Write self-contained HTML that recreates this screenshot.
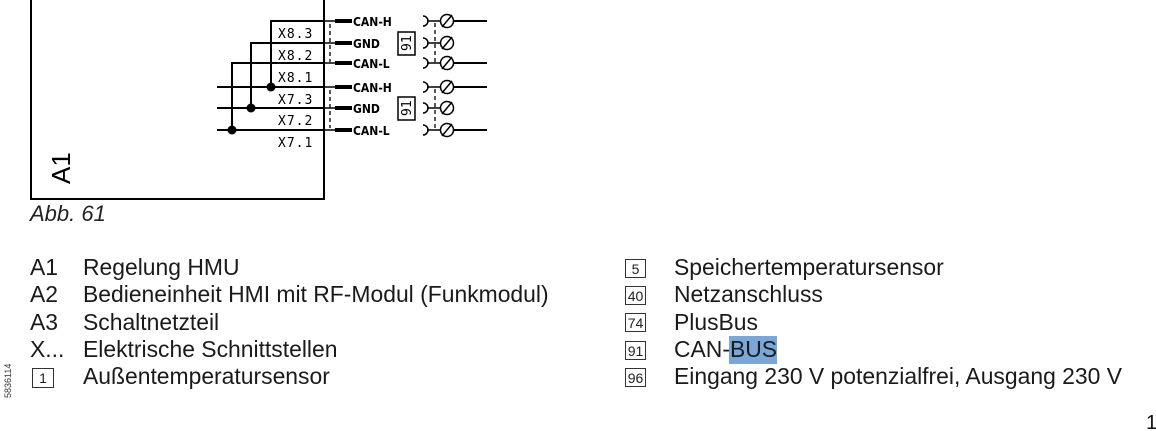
<!DOCTYPE html>
<html><head><meta charset="utf-8"><style>
html,body{margin:0;padding:0;background:#fff;}
svg{display:block;}
.m{font-family:"DejaVu Sans Mono","Liberation Mono",monospace;font-size:13px;letter-spacing:1px;fill:#000;}
.c{font-family:"DejaVu Sans Condensed","Liberation Sans",sans-serif;font-size:12px;font-weight:bold;fill:#000;}
.s{font-family:"Liberation Sans",sans-serif;font-size:22.9px;fill:#1a1a1a;}
</style></head><body>
<svg width="1156" height="431" viewBox="0 0 1156 431" xmlns="http://www.w3.org/2000/svg">
<g stroke="#000" fill="none" stroke-width="2">
<path d="M31 -2 V199 H324 V-2"/>
<path d="M271 87 V21 H324"/>
<path d="M251 108 V43 H324"/>
<path d="M232 130 V63 H324"/>
<path d="M217 87 H324 M217 108 H324 M217 130 H324"/>
<path d="M324 21H336 M324 43H336 M324 63H336 M324 87H336 M324 108H336 M324 130H336" stroke-width="1.5"/>
</g>
<g fill="#000">
<circle cx="271" cy="87" r="4.5"/><circle cx="251" cy="108" r="4.5"/><circle cx="232" cy="130" r="4.5"/>
<rect x="335" y="19" width="17" height="4"/><rect x="335" y="41" width="17" height="4"/><rect x="335" y="61" width="17" height="4"/>
<rect x="335" y="85" width="17" height="4"/><rect x="335" y="106" width="17" height="4"/><rect x="335" y="128" width="17" height="4"/>
</g>
<g stroke="#000" stroke-width="1.3" stroke-dasharray="4,3" fill="none">
<path d="M330 24 V62"/><path d="M330 90 V128"/>
<path d="M435 23 V62"/><path d="M435 89 V128"/>
</g>
<g class="m">
<text x="278" y="38">X8.3</text><text x="278" y="60">X8.2</text><text x="278" y="82">X8.1</text>
<text x="278" y="104">X7.3</text><text x="278" y="125">X7.2</text><text x="278" y="147">X7.1</text>
</g>
<g class="c">
<text x="353" y="26">CAN-H</text><text x="353" y="48">GND</text><text x="353" y="68">CAN-L</text>
<text x="353" y="92">CAN-H</text><text x="353" y="113">GND</text><text x="353" y="135">CAN-L</text>
</g>
<g stroke="#000" stroke-width="1.5" fill="#fff">
<rect x="398" y="32" width="17" height="23"/><rect x="398" y="97" width="17" height="23"/>
</g>
<text class="m" style="letter-spacing:0" transform="translate(411,51) rotate(-90)">91</text>
<text class="m" style="letter-spacing:0" transform="translate(411,116) rotate(-90)">91</text>
<g stroke="#000" stroke-width="1.5" fill="none">
<g id="r"><path d="M423 16 A5 5 0 0 1 423 26"/><path d="M427 21 H441"/><circle cx="447" cy="21" r="6.5"/><path d="M442 27 L452 15"/></g>
<use href="#r" transform="translate(0,22)"/><use href="#r" transform="translate(0,42)"/>
<use href="#r" transform="translate(0,66)"/><use href="#r" transform="translate(0,87)"/><use href="#r" transform="translate(0,109)"/>
<path d="M453 21 H487 M453 63 H487 M453 87 H487 M453 130 H487" stroke-width="2"/>
</g>
<text transform="translate(70,184) rotate(-90)" font-family="Liberation Sans,sans-serif" font-size="26" fill="#000">A1</text>
<text x="30" y="221" font-family="Liberation Sans,sans-serif" font-size="22" font-style="italic" fill="#222">Abb. 61</text>
<rect x="729" y="336" width="48" height="28" fill="#7aa7d8"/>
<g class="s">
<text x="30" y="275">A1</text><text x="83" y="275">Regelung HMU</text>
<text x="30" y="302">A2</text><text x="83" y="302">Bedieneinheit HMI mit RF-Modul (Funkmodul)</text>
<text x="30" y="330">A3</text><text x="83" y="330">Schaltnetzteil</text>
<text x="30" y="357">X...</text><text x="83" y="357">Elektrische Schnittstellen</text>
<text x="83" y="384">Außentemperatursensor</text>
<text x="674" y="275">Speichertemperatursensor</text>
<text x="674" y="302">Netzanschluss</text>
<text x="674" y="330">PlusBus</text>
<text x="674" y="357">CAN-BUS</text>
<text x="674" y="384">Eingang 230 V potenzialfrei, Ausgang 230 V</text>
</g>
<g stroke="#333" stroke-width="1" fill="#fff">
<rect x="32.5" y="368.5" width="21" height="19"/>
<rect x="625.5" y="259.5" width="20" height="18"/><rect x="625.5" y="286.5" width="20" height="18"/>
<rect x="625.5" y="313.5" width="20" height="18"/><rect x="625.5" y="341.5" width="20" height="18"/>
<rect x="625.5" y="368.5" width="20" height="18"/>
</g>
<g font-family="Liberation Sans,sans-serif" font-size="14" fill="#222" text-anchor="middle">
<text x="43" y="383">1</text>
<text x="635.5" y="274">5</text><text x="635.5" y="301">40</text><text x="635.5" y="328">74</text>
<text x="635.5" y="356">91</text><text x="635.5" y="383">96</text>
</g>
<text transform="translate(11,398) rotate(-90)" font-family="Liberation Sans,sans-serif" font-size="9" fill="#333">5836114</text>
<text x="1146" y="429" font-family="Liberation Sans,sans-serif" font-size="20" fill="#111">1</text>
</svg>
</body></html>
